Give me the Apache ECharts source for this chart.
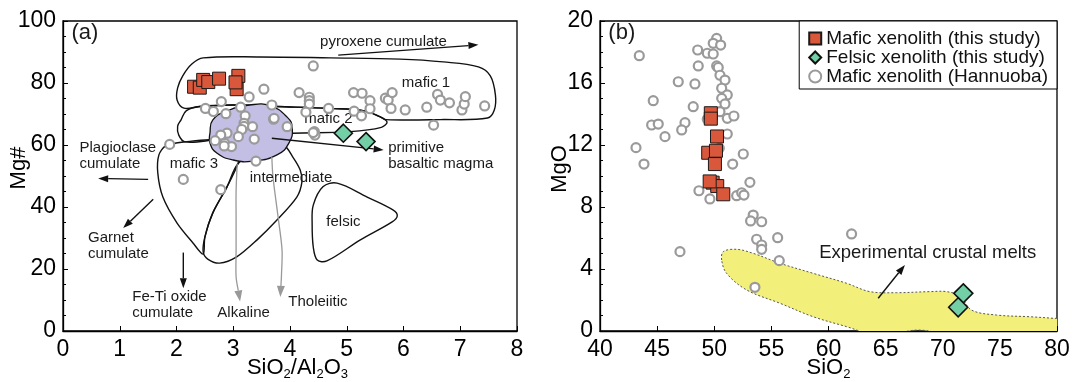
<!DOCTYPE html>
<html>
<head>
<meta charset="utf-8">
<script src="https://cdn.jsdelivr.net/npm/echarts@6/dist/echarts.min.js"></script>
<style>
  html, body { margin: 0; padding: 0; background: #fff; }
  #chart { width: 1076px; height: 382px; }
</style>
</head>
<body>
<div id="chart"></div>
<script>
// ---------- Panel (a): SiO2/Al2O3 vs Mg# ----------
const maficThisStudyA = [[2.31,78.8],[2.41,78.5],[2.47,81.0],[2.56,80.3],[2.75,81.4],[3.09,82.3],[3.06,78.0],[3.04,80.2]];
const felsicThisStudyA = [[4.94,63.8],[5.34,61.1]];
const hannuobaA = [
  [4.41,85.5],[3.54,78.0],[3.28,75.5],[4.16,76.9],[4.34,75.4],[4.34,74.3],[4.34,73.2],[4.28,70.6],[4.68,71.8],
  [5.12,76.9],[5.27,76.7],[5.41,74.3],[5.41,71.7],[5.13,70.9],[5.26,69.4],[5.68,75.1],[5.73,74.5],[5.80,76.9],[5.78,71.8],
  [6.03,71.3],[6.41,72.2],[6.53,66.4],[6.60,76.3],[6.65,74.5],[6.81,73.6],[7.03,71.3],[7.07,73.2],[7.09,75.6],[7.43,72.6],
  [3.95,65.9],[3.68,72.9],[3.71,68.3],[4.43,64.3],[4.44,63.2],[3.13,72.2],[2.79,74.0],[2.51,71.8],[2.65,70.8],[2.87,70.1],
  [1.88,60.2],[3.40,54.8],[2.12,48.9],[2.78,45.6],[3.21,69.4],[3.19,67.0],[3.19,66.0],[3.15,65.0],[3.34,65.9],[3.09,62.7],
  [3.37,61.9],[2.89,63.8],[2.78,63.2],[2.68,61.4],[2.85,60.5],[2.97,59.5],[2.84,59.7],[3.72,68.6],[4.41,64.0]
];

// field outlines (SiO2/Al2O3, Mg#)
const mafic1Field = [[2.47,88.1],[3.47,88.4],[4.71,88.1],[5.94,87.7],[6.70,86.8],[7.32,85.2],[7.53,82.3],[7.62,76.1],[7.60,71.3],[7.48,68.7],[6.65,68.2],[5.69,68.2],[5.59,69.1],[5.29,71.1],[4.71,71.8],[3.77,72.4],[2.99,72.9],[2.41,72.4],[2.13,71.9],[2.01,74.5],[2.02,78.4],[2.11,82.3],[2.27,86.1]];
const mafic2Field = [[2.08,68.1],[2.17,71.0],[2.41,72.4],[2.99,72.9],[3.77,72.4],[4.71,71.8],[5.29,71.1],[5.59,69.1],[5.71,67.4],[5.61,65.7],[5.06,64.3],[4.05,63.8],[3.12,62.9],[2.64,61.6],[2.15,61.0],[2.04,63.2],[2.02,66.1]];
const mafic3Field = [[2.68,61.6],[2.15,61.0],[1.81,59.7],[1.69,56.8],[1.67,51.0],[1.76,43.2],[2.01,34.8],[2.29,28.4],[2.47,24.8],[2.50,30.3],[2.64,38.1],[2.89,46.5],[3.08,53.9],[3.12,58.4]];
const intermediateField = [[3.08,53.9],[2.89,46.5],[2.64,38.1],[2.50,30.3],[2.47,25.5],[2.55,23.2],[2.76,21.9],[3.06,23.9],[3.42,29.4],[3.77,35.8],[4.12,43.2],[4.21,48.1],[4.18,51.9],[4.05,56.1],[3.88,60.0],[3.47,58.4]];
const felsicField = [[4.41,40.6],[4.58,46.5],[4.83,47.7],[5.36,43.2],[5.82,39.0],[5.89,37.1],[5.80,35.2],[5.24,29.4],[4.65,22.6],[4.48,22.9],[4.41,27.1],[4.39,34.8]];
const mafic2CoreField = [[2.59,63.9],[2.64,68.1],[2.89,71.0],[3.29,72.9],[3.65,72.6],[3.95,69.0],[4.04,65.5],[3.98,60.6],[3.77,56.8],[3.35,54.8],[2.99,55.2],[2.71,57.4],[2.59,60.6]];

// trend arrows [x0, y0, x1, y1]
const trendArrowsA = [
  [4.85,89.0,7.32,92.3],
  [3.68,62.2,5.65,58.4],
  [1.50,48.9,0.62,49.2],
  [1.59,42.5,1.06,33.2],
  [2.12,25.3,2.12,13.8]
];
const alkalineTrend = [[3.07,54.0],[3.05,45.0],[3.05,36.9],[3.05,26.0],[3.05,17.5],[3.12,9.5]];
const tholeiiticTrend = [[3.68,56.1],[3.70,49.7],[3.79,36.8],[3.86,26.1],[3.85,18.1],[3.83,11.0]];

// annotations [x, y, text] (left edge, vertical middle)
const notesA = [
  [0.15,96.0,'(a)'],
  [4.53,93.2,'pyroxene cumulate'],
  [5.97,79.9,'mafic 1'],
  [4.25,68.3,'mafic 2'],
  [1.88,53.9,'mafic 3'],
  [3.29,49.3,'intermediate'],
  [4.64,35.3,'felsic'],
  [0.29,56.4,'Plagioclase\ncumulate'],
  [5.73,56.4,'primitive\nbasaltic magma'],
  [0.44,27.5,'Garnet\ncumulate'],
  [1.22,8.4,'Fe-Ti oxide\ncumulate'],
  [2.72,6.0,'Alkaline'],
  [3.97,9.5,'Tholeiitic']
];

// ---------- Panel (b): SiO2 vs MgO ----------
const maficThisStudyB = [[49.70,14.05],[49.70,13.70],[50.24,12.55],[49.47,11.50],[50.15,11.63],[50.06,10.77],[49.86,9.57],[50.26,9.35],[50.79,8.82],[49.60,9.65]];
const felsicThisStudyB = [[71.80,2.43],[71.35,1.53]];
const hannuobaB = [
  [43.44,17.76],[50.21,18.88],[49.91,18.56],[50.56,18.45],[48.55,18.13],[49.39,17.92],[49.91,17.87],[48.60,17.10],[50.21,17.10],
  [50.35,17.00],[50.50,16.50],[50.94,16.19],[46.85,16.08],[48.31,15.94],[50.65,15.66],[51.14,15.23],[50.65,15.01],[44.66,14.86],
  [50.94,14.65],[48.16,14.47],[49.39,13.66],[51.14,13.72],[51.72,13.87],[44.52,13.29],[45.10,13.35],[47.44,13.44],[47.15,12.97],
  [45.69,12.54],[51.14,12.71],[43.15,11.83],[43.85,10.77],[52.54,11.42],[51.61,10.77],[53.12,9.59],[48.66,9.05],[49.62,8.52],
  [51.96,8.73],[52.40,8.92],[52.60,8.77],[53.41,7.48],[53.18,7.10],[54.15,7.05],[53.71,5.92],[54.15,5.55],[54.15,5.27],
  [55.55,6.02],[55.69,4.54],[47.00,5.12],[53.56,2.82],[62.02,6.26],[50.44,11.79],[50.50,14.15]
];
const crustalMeltsField = [[50.65,4.58],[50.79,5.12],[51.96,5.27],[53.41,5.01],[55.75,4.37],[58.66,3.72],[61.58,3.08],[63.62,2.54],[65.96,2.47],[68.87,2.54],[70.33,2.54],[71.50,2.26],[72.52,1.35],[74.71,1.03],[77.62,0.92],[79.66,0.82],[81.5,0.7],[81.5,-1.0],[71.5,-0.6],[69.4,-0.1],[67.9,0.06],[66.6,-0.05],[64.5,-0.35],[61.58,0.28],[58.66,0.92],[55.75,1.79],[52.83,2.65],[51.08,3.72]];
const trendArrowsB = [[64.35,2.11,66.69,4.26]];
const notesB = [
  [40.73,19.2,'(b)'],
  [59.19,5.01,'Experimental crustal melts']
];

const SANS = '"Liberation Sans", Arial, sans-serif';
const NARROW = '"Liberation Sans Narrow", "Arial Narrow", sans-serif';
const RED = '#d9583c', GREEN = '#72cfa6', GREY = '#9a9a9a';
const NAME_MAFIC = 'Mafic xenolith (this study)';
const NAME_FELSIC = 'Felsic xenolith (this study)';
const NAME_HANN = 'Mafic xenolith (Hannuoba)';

function fieldSeries(pts, axis, style, z, smooth) {
  return {
    type: 'custom', xAxisIndex: axis, yAxisIndex: axis, z: z, silent: true, clip: true,
    data: pts,
    renderItem: function (params, api) {
      if (params.dataIndex !== 0) return null;
      return {
        type: 'polygon',
        shape: { points: pts.map(function (p) { return api.coord(p); }), smooth: smooth },
        style: style
      };
    }
  };
}

function headPoints(tip, from, len, width) {
  const dx = tip[0] - from[0], dy = tip[1] - from[1];
  const d = Math.hypot(dx, dy) || 1, ux = dx / d, uy = dy / d;
  const bx = tip[0] - ux * len, by = tip[1] - uy * len;
  return {
    base: [bx, by],
    tri: [[tip[0], tip[1]], [bx - uy * width / 2, by + ux * width / 2], [bx + uy * width / 2, by - ux * width / 2]]
  };
}

function arrowSeries(list, axis, color) {
  return {
    type: 'custom', xAxisIndex: axis, yAxisIndex: axis, z: 4, silent: true,
    data: list,
    renderItem: function (params, api) {
      const a = list[params.dataIndex];
      const p0 = api.coord([a[0], a[1]]), p1 = api.coord([a[2], a[3]]);
      const h = headPoints(p1, p0, 10, 7);
      return {
        type: 'group',
        children: [
          { type: 'line', shape: { x1: p0[0], y1: p0[1], x2: h.base[0], y2: h.base[1] }, style: { stroke: color, lineWidth: 1.4 } },
          { type: 'polygon', shape: { points: h.tri }, style: { fill: color } }
        ]
      };
    }
  };
}

function curveArrowSeries(pts, axis, color) {
  return {
    type: 'custom', xAxisIndex: axis, yAxisIndex: axis, z: 3, silent: true,
    data: pts,
    renderItem: function (params, api) {
      if (params.dataIndex !== 0) return null;
      const px = pts.map(function (p) { return api.coord(p); });
      const tip = px[px.length - 1];
      const h = headPoints(tip, px[px.length - 2], 11, 8);
      const line = px.slice(0, -1).concat([h.base]);
      return {
        type: 'group',
        children: [
          { type: 'polyline', shape: { points: line, smooth: 0.3 }, style: { stroke: color, lineWidth: 1.3, fill: null } },
          { type: 'polygon', shape: { points: h.tri }, style: { fill: color } }
        ]
      };
    }
  };
}

function notesSeries(list, axis, fontSize, bigSize) {
  return {
    type: 'custom', xAxisIndex: axis, yAxisIndex: axis, z: 4, silent: true,
    data: list.map(function (n) { return [n[0], n[1]]; }),
    renderItem: function (params, api) {
      const n = list[params.dataIndex];
      const p = api.coord([n[0], n[1]]);
      const big = n[2].charAt(0) === '(';
      return {
        type: 'text', x: p[0], y: p[1],
        style: {
          text: n[2], fill: '#1a1a1a', fontFamily: SANS,
          fontSize: big ? bigSize : fontSize, lineHeight: 16,
          align: 'left', verticalAlign: 'middle'
        }
      };
    }
  };
}

function scatter(name, data, axis, symbol, size, style, z) {
  return {
    type: 'scatter', name: name, xAxisIndex: axis, yAxisIndex: axis, data: data,
    symbol: symbol, symbolSize: size, itemStyle: style, z: z, silent: true
  };
}

const squareStyle = { color: RED, borderColor: '#1a1a1a', borderWidth: 1, opacity: 1 };
const diamondStyle = { color: GREEN, borderColor: '#111', borderWidth: 1.6, opacity: 1 };
const circleStyle = { color: '#fff', borderColor: GREY, borderWidth: 2.2, opacity: 1 };
const outline = { fill: 'none', stroke: '#111', lineWidth: 1.4 };

function valueAxis(idx, min, max, interval, minor, extra) {
  return Object.assign({
    type: 'value', gridIndex: idx, min: min, max: max, interval: interval,
    axisLine: { show: true, onZero: false, lineStyle: { color: '#000', width: 1.3 } },
    axisTick: { show: true, inside: true, length: 5, lineStyle: { color: '#000', width: 1 } },
    minorTick: { show: minor > 0, splitNumber: minor || 5, length: 3, lineStyle: { color: '#000', width: 1 } },
    splitLine: { show: false },
    axisLabel: { color: '#000', fontFamily: NARROW, fontSize: 23, margin: 7, showMinLabel: true, showMaxLabel: true },
    nameMoveOverlap: false,
    nameTextStyle: { color: '#000', fontFamily: SANS, fontSize: 22 }
  }, extra);
}

const subRich = {
  m: { fontSize: 22, fontFamily: SANS, color: '#000', lineHeight: 26 },
  s: { fontSize: 13, fontFamily: SANS, color: '#000', verticalAlign: 'bottom', lineHeight: 14 }
};

const option = {
  animation: false,
  backgroundColor: '#fff',
  grid: [
    { left: 63, top: 21, width: 454, height: 310, show: true, borderColor: '#000', borderWidth: 1.3, outerBoundsMode: 'none' },
    { left: 600, top: 21, width: 457, height: 310, show: true, borderColor: '#000', borderWidth: 1.3, outerBoundsMode: 'none' }
  ],
  xAxis: [
    valueAxis(0, 0, 8, 1, 0, {
      name: '{m|SiO}{s|2}{m|/Al}{s|2}{m|O}{s|3}', nameLocation: 'middle', nameGap: 24,
      nameTextStyle: { rich: subRich, padding: [0, 0, 0, 15] }
    }),
    valueAxis(1, 40, 80, 5, 0, {
      name: '{m|SiO}{s|2}', nameLocation: 'middle', nameGap: 24,
      nameTextStyle: { rich: subRich }
    })
  ],
  yAxis: [
    valueAxis(0, 0, 100, 20, 4, {
      name: 'Mg#', nameLocation: 'middle', nameRotate: 90, nameGap: 33,
      nameTextStyle: { color: '#000', fontFamily: SANS, fontSize: 22, padding: [0, 0, 0, 16] }
    }),
    valueAxis(1, 0, 20, 4, 4, {
      name: 'MgO', nameLocation: 'middle', nameRotate: 90, nameGap: 29,
      nameTextStyle: { color: '#000', fontFamily: SANS, fontSize: 22, padding: [0, 0, 0, 14] }
    })
  ],
  legend: {
    right: 19, top: 21, orient: 'vertical', itemGap: 0, itemWidth: 12, itemHeight: 12,
    padding: [8, 9, 3, 9], borderColor: '#000', borderWidth: 1, backgroundColor: '#fff',
    selectedMode: false,
    textStyle: { fontFamily: SANS, fontSize: 19, color: '#111', lineHeight: 19 },
    data: [
      { name: NAME_MAFIC, icon: 'rect' },
      { name: NAME_FELSIC, icon: 'diamond' },
      { name: NAME_HANN, icon: 'circle' }
    ]
  },
  series: [
    // panel (a) fields
    fieldSeries(mafic1Field, 0, outline, 1, 0.35),
    fieldSeries(mafic2Field, 0, outline, 1, 0.35),
    fieldSeries(mafic3Field, 0, outline, 1, 0.3),
    fieldSeries(intermediateField, 0, outline, 1, 0.3),
    fieldSeries(felsicField, 0, outline, 1, 0.35),
    fieldSeries(mafic2CoreField, 0, { fill: '#c3bee4', stroke: '#111', lineWidth: 1.3 }, 2, 0.5),
    curveArrowSeries(alkalineTrend, 0, '#999'),
    curveArrowSeries(tholeiiticTrend, 0, '#999'),
    arrowSeries(trendArrowsA, 0, '#111'),
    notesSeries(notesA, 0, 15, 22),
    scatter(NAME_HANN, hannuobaA, 0, 'circle', 9, circleStyle, 5),
    scatter(NAME_MAFIC, maficThisStudyA, 0, 'rect', 13, squareStyle, 6),
    scatter(NAME_FELSIC, felsicThisStudyA, 0, 'diamond', 18, diamondStyle, 7),
    // panel (b)
    fieldSeries(crustalMeltsField, 1, { fill: '#f2ef7a', stroke: '#555', lineWidth: 1, lineDash: [2, 2] }, 1, 0.35),
    arrowSeries(trendArrowsB, 1, '#111'),
    notesSeries(notesB, 1, 18.5, 22),
    scatter(NAME_HANN, hannuobaB, 1, 'circle', 9, circleStyle, 5),
    scatter(NAME_MAFIC, maficThisStudyB, 1, 'rect', 13, squareStyle, 6),
    scatter(NAME_FELSIC, felsicThisStudyB, 1, 'diamond', 19, diamondStyle, 7)
  ]
};

const chart = echarts.init(document.getElementById('chart'), null, { renderer: 'canvas' });
chart.setOption(option);
</script>
</body>
</html>
